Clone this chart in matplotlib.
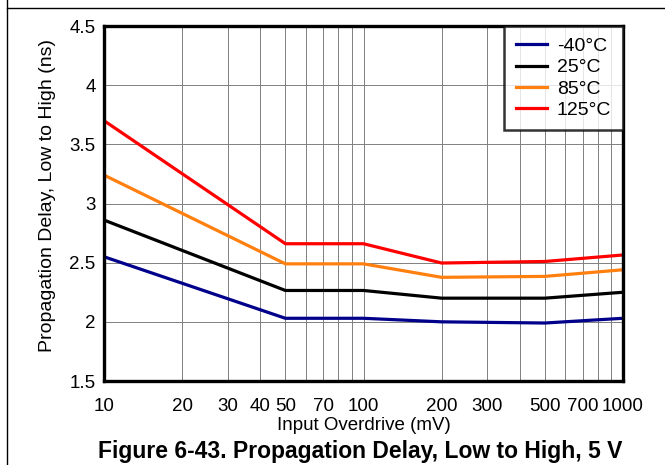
import matplotlib
matplotlib.use("Agg")
import matplotlib.pyplot as plt
from matplotlib.lines import Line2D
from matplotlib.ticker import FixedLocator, NullFormatter, LogLocator

plt.rcParams['font.family'] = ['Liberation Sans', 'DejaVu Sans']

overdrive = [10, 50, 100, 200, 500, 1000]
delay_m40 = [2.55, 2.03, 2.03, 2.00, 1.99, 2.03]
delay_25 = [2.86, 2.265, 2.265, 2.20, 2.20, 2.25]
delay_85 = [3.24, 2.49, 2.49, 2.376, 2.384, 2.44]
delay_125 = [3.70, 2.66, 2.66, 2.497, 2.51, 2.565]
labels = ['-40°C', '25°C', '85°C', '125°C']
colors = ['#00008B', '#000000', '#FF7F0F', '#FF0000']

xticks = [10, 20, 30, 40, 50, 70, 100, 200, 300, 500, 700, 1000]
yticks = [1.5, 2, 2.5, 3, 3.5, 4, 4.5]

fig = plt.figure(figsize=(6.65, 4.65), dpi=100)
ax = fig.add_axes([104/665, 1-381/465, (623-104)/665, (381-26)/465])

for y, lab, c in zip([delay_m40, delay_25, delay_85, delay_125], labels, colors):
    ax.plot(overdrive, y, color=c, lw=2.3, label=lab)

ax.set_xscale('log')
ax.set_xlim(10, 1000)
ax.set_ylim(1.5, 4.5)
ax.xaxis.set_major_locator(FixedLocator(xticks))
ax.xaxis.set_minor_locator(LogLocator(base=10, subs=range(2, 10)))
ax.xaxis.set_minor_formatter(NullFormatter())
ax.set_xticklabels([str(t) for t in xticks])
ax.set_yticks(yticks)
ax.set_yticklabels(['%g' % t for t in yticks])
ax.tick_params(which='both', length=0, labelsize=13.5)
ax.tick_params(axis='x', pad=12)
ax.tick_params(axis='y', pad=6)
ax.grid(True, which='both', color='#808080', lw=0.7)
for s in ax.spines.values():
    s.set_linewidth(2.4)

ax.set_xlabel('Input Overdrive (mV)', fontsize=13.5, labelpad=2)
ax.set_ylabel('Propagation Delay, Low to High (ns)', fontsize=14, labelpad=10)
ax.yaxis.label.set_y(0.522)

leg = ax.legend(loc='upper right', fontsize=14, frameon=True, fancybox=False,
                borderaxespad=0, handlelength=1.6, labelspacing=0.18,
                borderpad=0.6, handletextpad=0.5)
leg.get_frame().set_edgecolor('black')
leg.get_frame().set_linewidth(1.8)

fig.text(360/665, 1-451/465, 'Figure 6-43. Propagation Delay, Low to High, 5 V',
         ha='center', va='center', fontsize=16.5, fontweight='bold')

fig.add_artist(Line2D([7/665, 7/665], [0, 1], color='black', lw=1.0))
fig.add_artist(Line2D([7/665, 1], [1-8/465, 1-8/465], color='black', lw=1.0))

fig.savefig('out.png', dpi=100)
